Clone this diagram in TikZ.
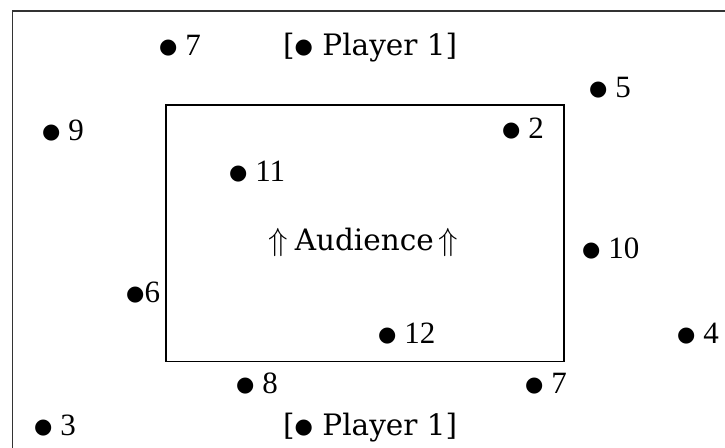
\documentclass[tikz,border=0pt]{standalone}
\usepackage{fix-cm}
\usepackage{fontspec}
\setmainfont{Liberation Serif}
\newfontfamily\slabfont{DejaVu Serif}
\newfontfamily\symfont{DejaVu Sans}
% large round bullet used in front of every label
\newcommand{\bigdot}{{\symfont\fontsize{21}{21}\selectfont\raisebox{1.5pt}{●}}}
% thin double up-arrow framing the audience label
\newcommand{\uparr}{{\fontsize{32}{32}\selectfont$\Uparrow$}}
\begin{document}
\begin{tikzpicture}[x=1pt,y=-1pt,
  pt/.style={anchor=base west,inner sep=0pt,font=\fontsize{31}{31}\selectfont},
  slab/.style={anchor=base west,inner sep=0pt,font=\slabfont\fontsize{29.5}{29.5}\selectfont},
  frame/.style={draw=black!80,line width=1.6pt},
  stagebox/.style={draw=black,line width=1.8pt}]
\useasboundingbox (0,0) rectangle (725,447);
\begin{scope}
  \clip (0,0) rectangle (725,447);
  \draw[frame] (12.5,11) rectangle (740,470);
\end{scope}
\draw[stagebox] (166,105) rectangle (564,361.5);

\node[pt] (p7a) at (159,55) {\bigdot\ 7};
\node[slab] (pl1) at (283,55) {[\bigdot\ Player 1]};
\node[pt] (p9) at (42,140) {\bigdot\ 9};
\node[pt] (p5) at (589,97) {\bigdot\ 5};
\node[pt] (p2) at (502,138) {\bigdot\ 2};
\node[pt] (p11) at (229,181) {\bigdot\ 11};
\node[slab] (aud) at (268,250) {\uparr\hspace{7pt}Audience\hspace{5pt}\uparr};
\node[pt] (p10) at (582,258) {\bigdot\ 10};
\node[pt] (p6) at (126,302) {\bigdot6};
\node[pt] (p12) at (378,343) {\bigdot\ 12};
\node[pt] (p4) at (677,343) {\bigdot\ 4};
\node[pt] (p8) at (236,393) {\bigdot\ 8};
\node[pt] (p7b) at (525,393) {\bigdot\ 7};
\node[pt] (p3) at (34,435) {\bigdot\ 3};
\node[slab] (pl2) at (283,435) {[\bigdot\ Player 1]};
\end{tikzpicture}
\end{document}
